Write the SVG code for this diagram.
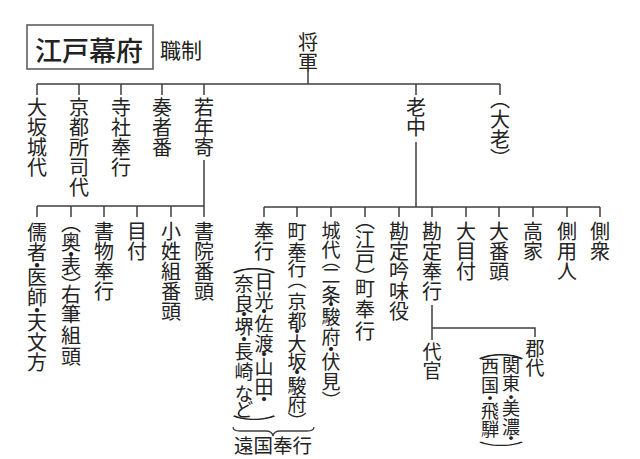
<svg xmlns="http://www.w3.org/2000/svg" width="640" height="459" viewBox="0 0 640 459">
<style>
text{font-family:"Noto Sans CJK JP","Noto Sans CJK SC",sans-serif;fill:#222;}
.v{writing-mode:vertical-rl;font-size:20px;}
.s19{font-size:19px;}
.s18{font-size:18px;}
.s16{font-size:16px;}
.ln{stroke:#3f3f3f;stroke-width:1.5;fill:none;}
</style>
<rect width="640" height="459" fill="#fff"/>
<g id="title">
<rect x="27" y="25" width="126" height="44" fill="none" stroke="#555" stroke-width="1.5"/>
<text x="35" y="61" style="font-size:27px;font-weight:500">江戸幕府</text>
<text x="160" y="58" style="font-size:21px">職制</text>
</g>
<g id="connectors" class="ln">
<path d="M308,72V84M37,84H500M37,84V95M79,84V95M121,84V95M162,84V95M204,84V95M416,84V95M500,84V95"/>
<path d="M416,142V207M204,160V206M37,206H204M37,206V217M71,206V217M104,206V217M137,206V217M171,206V217M204,206V217"/>
<path d="M264,207H600M264,207V217M297,207V217M331,207V217M365,207V217M399,207V217M432,207V217M466,207V217M499,207V217M533,207V217M567,207V217M600,207V217"/>
<path d="M432,305V340M432,328H535V337"/>
<path d="M233,427Q233,431 240,431L266,431Q272,431 273,436Q274,431 280,431L307,431Q314,431 314,427" stroke-width="1.3"/>
</g>
<g id="shogun"><text class="v" x="308" y="32">将軍</text></g>
<g id="osakajodai"><text class="v" x="37" y="97">大坂城代</text></g>
<g id="kyotoshoshidai"><text class="v" x="79" y="97">京都所司代</text></g>
<g id="jishabugyo"><text class="v" x="121" y="97">寺社奉行</text></g>
<g id="sojaban"><text class="v" x="162" y="97">奏者番</text></g>
<g id="wakadoshiyori"><text class="v" x="204" y="97">若年寄</text></g>
<g id="roju"><text class="v" x="416" y="97">老中</text></g>
<g id="tairo"><text class="v" x="500" y="89 109 129 148">（大老）</text></g>
<g id="jusha"><text class="v" x="37" y="222 242 255 267 287 300 312 332 352">儒者・医師・天文方</text></g>
<g id="yuhitsu"><text class="v" x="71" y="213 232 244 256 275.5 284 304 325 346">（奥・表）右筆組頭</text></g>
<g id="shomotsubugyo"><text class="v" x="104" y="221">書物奉行</text></g>
<g id="metsuke"><text class="v" x="137" y="221">目付</text></g>
<g id="koshogumi"><text class="v" x="171" y="221">小姓組番頭</text></g>
<g id="shoinban"><text class="v" x="204" y="221">書院番頭</text></g>
<g id="ongokubugyo">
<text class="v" x="264" y="221">奉行</text>
<text class="v" x="254" y="254" transform="translate(254 0) scale(2.2 1) translate(-254 0)">（</text>
<text class="v s19" x="264" y="272 291 302.5 314 334 345.5 357 377 390.5">日光・佐渡・山田・</text>
<text class="v s19" x="244" y="274 294 305.5 317 330.5 342 362 384 400">奈良・堺・長崎など</text>
<text class="v s16" x="254" y="415" transform="translate(254 0) scale(2.75 1) translate(-254 0)">）</text>
<text x="234" y="453" style="font-size:19.5px">遠国奉行</text>
</g>
<g id="machibugyo2"><text class="v s19" x="297" y="222 242 259 270.6 292 311 322.5 334 352 363.5 376 394 412.6">町奉行（京都・大坂・駿府）</text></g>
<g id="jodai"><text class="v s19" x="331" y="221 240 250.6 266 285 295.5 307 327 340.5 352 372 391">城代（二条・駿府・伏見）</text></g>
<g id="edomachibugyo"><text class="v" x="365" y="210 229 249 267 278 299 321">（江戸）町奉行</text></g>
<g id="kanjoginmiyaku"><text class="v" x="399" y="221">勘定吟味役</text></g>
<g id="kanjobugyo"><text class="v" x="432" y="221">勘定奉行</text></g>
<g id="ometsuke"><text class="v" x="466" y="221">大目付</text></g>
<g id="obangashira"><text class="v" x="499" y="221">大番頭</text></g>
<g id="koke"><text class="v" x="533" y="221">高家</text></g>
<g id="sobayonin"><text class="v" x="567" y="221">側用人</text></g>
<g id="sobashu"><text class="v" x="600" y="221">側衆</text></g>
<g id="daikan"><text class="v s19" x="432" y="342">代官</text></g>
<g id="gundai">
<text class="v s19" x="535" y="339">郡代</text>
<text class="v" x="501" y="340" transform="translate(501 0) scale(2.3 1) translate(-501 0)">（</text>
<text class="v s18" x="511" y="356 374 388 399 418 429">関東・美濃・</text>
<text class="v s18" x="490" y="357 376 389 402 420">西国・飛騨</text>
<text class="v s16" x="501" y="441" transform="translate(501 0) scale(2.85 1) translate(-501 0)">）</text>
</g>
</svg>
